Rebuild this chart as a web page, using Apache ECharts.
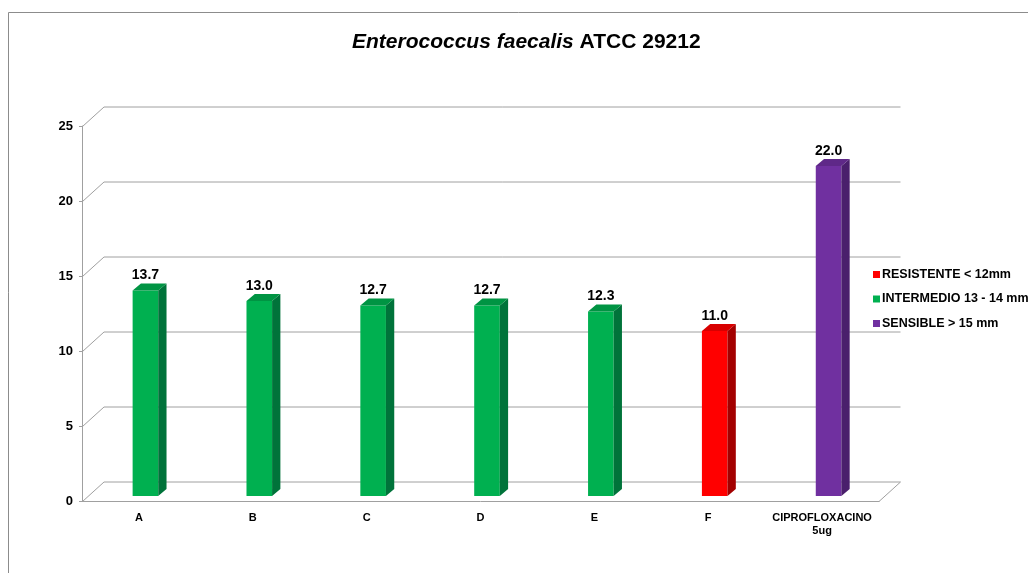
<!DOCTYPE html>
<html>
<head>
<meta charset="utf-8">
<script src="https://cdn.jsdelivr.net/npm/echarts@6/dist/echarts.min.js"></script>
<style>
  html, body { margin: 0; padding: 0; background: #fff; }
  #chart { width: 1028px; height: 573px; }
</style>
</head>
<body>
<div id="chart"></div>
<script>
// Inhibition halo (mm) per sample, grouped by susceptibility class
const categories = ['A', 'B', 'C', 'D', 'E', 'F', 'CIPROFLOXACINO\n5ug'];
const haloValues = [13.7, 13.0, 12.7, 12.7, 12.3, 11.0, 22.0];
const classes = [
  'INTERMEDIO 13 - 14 mm', 'INTERMEDIO 13 - 14 mm', 'INTERMEDIO 13 - 14 mm',
  'INTERMEDIO 13 - 14 mm', 'INTERMEDIO 13 - 14 mm', 'RESISTENTE < 12mm', 'SENSIBLE > 15 mm'
];
const legendOrder = ['RESISTENTE < 12mm', 'INTERMEDIO 13 - 14 mm', 'SENSIBLE > 15 mm'];
const yTicks = [0, 5, 10, 15, 20, 25];

const FONT = 'Liberation Sans, Arial, sans-serif';
const palette = {
  'RESISTENTE < 12mm':     { front: '#ff0000', side: '#a30000', top: '#d80000' },
  'INTERMEDIO 13 - 14 mm': { front: '#00b050', side: '#00733a', top: '#009443' },
  'SENSIBLE > 15 mm':      { front: '#7030a0', side: '#4a1f6c', top: '#5f2888' }
};

// pseudo-3D depth of the plot box and of the bars
const WALL_DX = 21.5, WALL_DY = -19.5;
const BAR_DX = 6.5, BAR_DY = -5, BAR_W = 25.6, SIDE_DX = 8.3, SIDE_DY = -7;
const GRID_COLOR = '#a0a0a0';

function renderWall(params, api) {
  const cs = params.coordSys;
  const v = api.value(1);
  const y = Math.round(api.coord([0, v])[1]) + 0.5;
  const left = cs.x + 0.5, right = cs.x + cs.width;
  const children = [{
    type: 'polyline',
    shape: { points: [[left, y], [left + WALL_DX, y + WALL_DY], [right + WALL_DX, y + WALL_DY]] },
    style: { stroke: GRID_COLOR, lineWidth: 1, fill: null }
  }];
  if (v === 0) {
    children.push({
      type: 'line',
      shape: { x1: right, y1: y, x2: right + WALL_DX, y2: y + WALL_DY },
      style: { stroke: GRID_COLOR, lineWidth: 1 }
    });
  }
  return { type: 'group', children };
}

function renderBar(params, api) {
  const i = api.value(0), v = api.value(1);
  const col = palette[classes[i]];
  const base = api.coord([i, 0]);
  const top = api.coord([i, v]);
  const x0 = base[0] + BAR_DX - BAR_W / 2;
  const x1 = x0 + BAR_W;
  const yb = base[1] + BAR_DY;
  const yt = top[1] + BAR_DY;
  return {
    type: 'group',
    children: [
      { type: 'rect', shape: { x: x0, y: yt, width: BAR_W, height: yb - yt }, style: { fill: col.front } },
      { type: 'polygon', shape: { points: [[x1, yt], [x1 + SIDE_DX, yt + SIDE_DY], [x1 + SIDE_DX, yb + SIDE_DY], [x1, yb]] }, style: { fill: col.side } },
      { type: 'polygon', shape: { points: [[x0, yt], [x0 + SIDE_DX, yt + SIDE_DY], [x1 + SIDE_DX, yt + SIDE_DY], [x1, yt]] }, style: { fill: col.top } },
      { type: 'text', style: {
          text: v.toFixed(1), x: x0 + BAR_W / 2, y: yt + SIDE_DY - 1,
          align: 'center', verticalAlign: 'bottom',
          font: 'bold 14px ' + FONT, fill: '#000'
        } }
    ]
  };
}

const barSeries = legendOrder.map(name => ({
  type: 'custom',
  name,
  z: 5,
  itemStyle: { color: palette[name].front },
  renderItem: renderBar,
  data: haloValues.map((v, i) => [i, v]).filter(d => classes[d[0]] === name)
}));

const chart = echarts.init(document.getElementById('chart'), null, { renderer: 'canvas' });
chart.setOption({
  animation: false,
  backgroundColor: '#fff',
  title: {
    text: '{i|Enterococcus faecalis} {b|ATCC 29212}',
    left: 347,
    top: 27,
    textStyle: {
      fontFamily: FONT, fontSize: 21, fontWeight: 'bold', color: '#000',
      rich: {
        i: { fontFamily: FONT, fontSize: 21, fontWeight: 'bold', fontStyle: 'italic', color: '#000' },
        b: { fontFamily: FONT, fontSize: 21, fontWeight: 'bold', color: '#000' }
      }
    }
  },
  legend: {
    orient: 'vertical',
    left: 868,
    top: 262,
    icon: 'rect',
    itemWidth: 7,
    itemHeight: 7,
    itemGap: 9.5,
    data: legendOrder,
    textStyle: { fontFamily: FONT, fontSize: 12.5, fontWeight: 'bold', color: '#000', lineHeight: 15, padding: [0, 0, 0, -3] }
  },
  graphic: [
    { type: 'line', shape: { x1: 8.5, y1: 12.5, x2: 1028, y2: 12.5 }, style: { stroke: '#8c8c8c', lineWidth: 1 } },
    { type: 'line', shape: { x1: 8.5, y1: 12.5, x2: 8.5, y2: 573 }, style: { stroke: '#8c8c8c', lineWidth: 1 } }
  ],
  grid: { left: 82, right: 149, top: 126, bottom: 72 },
  xAxis: {
    type: 'category',
    data: categories,
    axisLine: { lineStyle: { color: GRID_COLOR } },
    axisTick: { alignWithLabel: false, length: 4, lineStyle: { color: GRID_COLOR } },
    axisLabel: { fontFamily: FONT, fontSize: 11, fontWeight: 'bold', color: '#000', margin: 10, lineHeight: 13, interval: 0 },
    splitLine: { show: false }
  },
  yAxis: {
    type: 'value',
    min: 0,
    max: 25,
    interval: 5,
    axisLine: { show: true, lineStyle: { color: GRID_COLOR } },
    axisTick: { show: true, length: 3, lineStyle: { color: GRID_COLOR } },
    axisLabel: { fontFamily: FONT, fontSize: 13, fontWeight: 'bold', color: '#000', margin: 9 },
    splitLine: { show: false }
  },
  series: [
    {
      type: 'custom',
      name: 'wall',
      z: 1,
      silent: true,
      renderItem: renderWall,
      data: yTicks.map(v => [0, v])
    },
    ...barSeries
  ]
});
</script>
</body>
</html>
